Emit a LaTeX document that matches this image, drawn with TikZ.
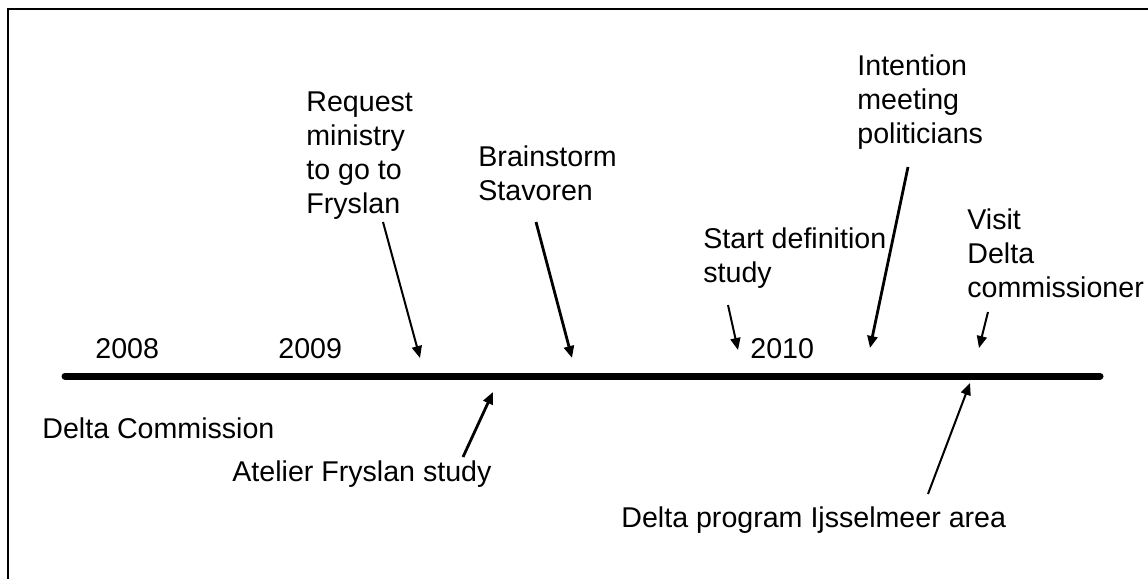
\documentclass[tikz,border=0pt]{standalone}
\usepackage{fontspec}
\setmainfont{Liberation Sans}
\usetikzlibrary{positioning, arrows.meta}
\tikzstyle{lbl}=[
  anchor=base west,
  inner sep=0pt,
  align=left,
  font={\fontsize{14.3pt}{16.9pt}\selectfont}
]
\tikzstyle{ptr}=[
  line width=1pt,
  -{Triangle[length=6pt,width=5pt]}
]
\tikzstyle{ptrb}=[ptr, line width=1.4pt]

\begin{document}
\begin{tikzpicture}[x=0.5pt, y=-0.5pt]

\newcommand\TL{376}

\useasboundingbox (0,0) rectangle (1148,579);

\draw[line width=0.6pt] (1148,9) -- (8,9) -- (8,579); %% frame

\coordinate (tlstart) at (65,\TL);
\coordinate (tlstop) at (1100,\TL);
\draw[line width=3.5pt, line cap=round] (tlstart) -- (tlstop);

%% years
\node[lbl] (y2008) at (95,358) {2008};
\node[lbl] (y2009) at (278,358) {2009};
\node[lbl] (y2010) at (750,358) {2010};

%% above the line (base = last line)
\node[lbl] (request) at (306,213) {Request\\ministry\\to go to\\Fryslan};
\node[lbl] (brainstorm) at (478,200) {Brainstorm\\Stavoren};
\node[lbl] (definition) at (703,282) {Start definition\\study};
\node[lbl] (intention) at (857,143) {Intention\\meeting\\politicians};
\node[lbl] (visit) at (967,297) {Visit\\Delta\\commissioner};

%% below the line
\node[lbl] (commission) at (42,438) {Delta Commission};
\node[lbl] (atelier) at (232,481) {Atelier Fryslan study};
\node[lbl] (program) at (621,527) {Delta program Ijsselmeer area};

%%
\coordinate (requestA) at (383,222);
\coordinate (requestB) at (420,358);
\coordinate (brainstormA) at (536,222);
\coordinate (brainstormB) at (572,358);
\coordinate (definitionA) at (728,305);
\coordinate (definitionB) at (738,350);
\coordinate (intentionA) at (908,167);
\coordinate (intentionB) at (870,348);
\coordinate (visitA) at (988,312);
\coordinate (visitB) at (979,348);
\coordinate (atelierA) at (463,457);
\coordinate (atelierB) at (493,392);
\coordinate (programA) at (928,494);
\coordinate (programB) at (970,383);

\draw[ptr] (requestA) -- (requestB);
\draw[ptrb] (brainstormA) -- (brainstormB);
\draw[ptr] (definitionA) -- (definitionB);
\draw[ptrb] (intentionA) -- (intentionB);
\draw[ptr] (visitA) -- (visitB);
\draw[ptrb] (atelierA) -- (atelierB);
\draw[ptr] (programA) -- (programB);

\end{tikzpicture}
\end{document}
